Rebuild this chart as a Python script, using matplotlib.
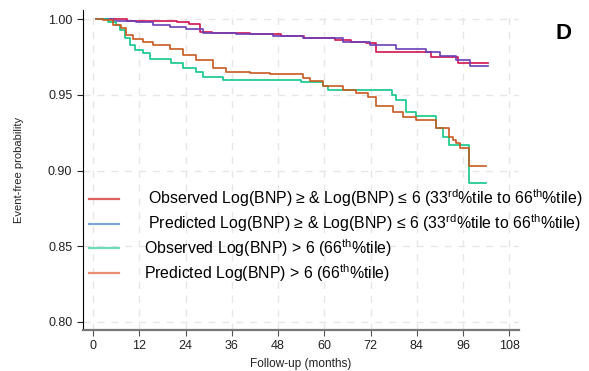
import matplotlib.pyplot as plt
from matplotlib.lines import Line2D

plt.rcParams['font.family'] = ['Liberation Sans', 'DejaVu Sans']
plt.rcParams['mathtext.default'] = 'regular'

# months / event-free probability (step functions)
obs_mid_t = [0, 8, 21, 24, 27, 30, 40, 48, 54, 62, 66, 70, 72.5, 87, 94, 101.7]
obs_mid_s = [1.000, 0.9989, 0.9978, 0.9965, 0.9917, 0.9906, 0.9899, 0.9888, 0.9875,
             0.9862, 0.9850, 0.9842, 0.9782, 0.9751, 0.9712, 0.9712]

pred_mid_t = [0, 4.4, 10.4, 14.8, 19.2, 23.3, 27.8, 36.3, 45.9, 53.7, 64.1, 71.1,
              77.8, 85.6, 89.2, 93.4, 97.0, 101.7]
pred_mid_s = [1.000, 0.9987, 0.9978, 0.9960, 0.9946, 0.9937, 0.9908, 0.9901, 0.9890,
              0.9873, 0.9847, 0.9828, 0.9800, 0.9784, 0.9758, 0.9729, 0.9690, 0.9690]

obs_high_t = [0, 3.1, 5.2, 6.2, 7.5, 8.8, 10.1, 12.2, 14.0, 19.5, 22.6, 25.9, 27.8,
              32.9, 53.2, 58.9, 60.2, 76.8, 77.8, 80.4, 83.0, 88.2, 90.0, 91.6, 96.8, 101.2]
obs_high_s = [1.000, 0.998, 0.996, 0.9927, 0.9875, 0.9828, 0.9795, 0.9776, 0.9734,
              0.9710, 0.9677, 0.9652, 0.9619, 0.9597, 0.9584, 0.9558, 0.9531, 0.9498,
              0.9465, 0.9386, 0.9360, 0.9281, 0.9221, 0.9168, 0.8917, 0.8917]

pred_high_t = [0, 1.8, 4.4, 6.5, 7.8, 9.6, 12.2, 14.8, 19.2, 22.6, 25.9, 30.4, 33.7,
               39.9, 45.1, 53.7, 55.5, 58.9, 64.1, 67.4, 70.6, 72.6, 77.0, 79.6, 83.0,
               88.2, 91.6, 92.6, 93.4, 94.5, 96.8, 101.2]
pred_high_s = [1.000, 0.9993, 0.996, 0.9941, 0.9894, 0.9866, 0.985, 0.9828, 0.980,
               0.9762, 0.9729, 0.9677, 0.9652, 0.9646, 0.9637, 0.9609, 0.9593, 0.9558,
               0.9531, 0.951, 0.9487, 0.9426, 0.9388, 0.9355, 0.9333, 0.9281, 0.9223,
               0.9201, 0.918, 0.9147, 0.9032, 0.9032]

labels = [
    ' Observed Log(BNP) \u2265 & Log(BNP) \u2264 6 (33$^{rd}$%tile to 66$^{th}$%tile)',
    ' Predicted Log(BNP) \u2265 & Log(BNP) \u2264 6 (33$^{rd}$%tile to 66$^{th}$%tile)',
    'Observed Log(BNP) > 6 (66$^{th}$%tile)',
    'Predicted Log(BNP) > 6 (66$^{th}$%tile)',
]
line_colors = ['#d1134f', '#6b40b8', '#10c888', '#c85a22']
legend_colors = ['#e06060', '#7ea6d8', '#6cdcb4', '#e89070']
xticks = [0, 12, 24, 36, 48, 60, 72, 84, 96, 108]
yticks = [0.80, 0.85, 0.90, 0.95, 1.00]

fig = plt.figure(figsize=(5.89, 3.71), dpi=100)
ax = fig.add_axes([0.1404, 0.1105, 0.7413, 0.8625])

series = [(obs_mid_t, obs_mid_s), (pred_mid_t, pred_mid_s),
          (obs_high_t, obs_high_s), (pred_high_t, pred_high_s)]
for (t, s), c in zip(series, line_colors):
    t = [v + 0.8 for v in t]
    ax.step(t, s, where='post', color=c, lw=1.2)

ax.set_xlim(-2.7, 110.6)
ax.set_ylim(0.7947, 1.006)
ax.set_xticks(xticks)
ax.set_yticks(yticks)
ax.set_yticklabels(['%.2f' % v for v in yticks])
ax.tick_params(labelsize=9, length=4, colors='#222222')
ax.tick_params(axis='x', color='#555555')
ax.grid(True, color='#e6e6e6', ls=(0, (5, 5)), lw=1)
ax.set_axisbelow(True)
for sp in ['top', 'right']:
    ax.spines[sp].set_visible(False)
ax.spines['left'].set_color('black')
ax.spines['bottom'].set_color('#777777')
ax.spines['bottom'].set_linewidth(1.6)

ax.set_xlabel('Follow-up (months)', fontsize=8.5, color='#222222', labelpad=4)
ax.set_ylabel('Event-free probability', fontsize=8, color='#222222', labelpad=17)

handles = [Line2D([], [], color=c, lw=1.6) for c in legend_colors]
leg = ax.legend(handles, labels, loc='upper left', bbox_to_anchor=(0.0, 0.465),
                frameon=False, fontsize=11.4, handlelength=1.9, handletextpad=1.6,
                labelspacing=0.2, borderaxespad=0)

fig.text(0.956, 0.91, 'D', fontsize=16, fontweight='bold', ha='center', va='center')

fig.savefig('out.png', dpi=100)
